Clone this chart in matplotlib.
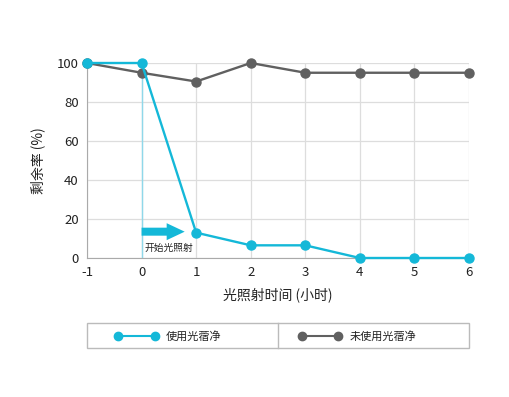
import matplotlib
matplotlib.use("Agg")
import matplotlib.pyplot as plt
from matplotlib.lines import Line2D
from matplotlib.patches import Rectangle, FancyArrow

plt.rcParams['font.family'] = ['Noto Sans CJK SC', 'DejaVu Sans']
plt.rcParams['axes.unicode_minus'] = False

hours = [-1, 0, 1, 2, 3, 4, 5, 6]
with_cleaner = [100, 100, 13, 6.5, 6.5, 0, 0, 0]
without_cleaner = [100, 95, 90.5, 100, 95, 95, 95, 95]
yticks = [0, 20, 40, 60, 80, 100]
series_names = ['使用光蓿净', '未使用光蓿净']
blue = '#14b8d8'
gray = '#606060'

fig = plt.figure(figsize=(5.1, 3.97), dpi=100)
ax = fig.add_axes([87/510, 1-258/397, (469-87)/510, (258-63)/397])
ax.set_xlim(-1, 6)
ax.set_ylim(0, 100)
ax.set_xticks(hours)
ax.set_yticks(yticks)
ax.grid(True, color='#dddddd', linewidth=0.9)
ax.set_axisbelow(True)
for s in ['top', 'right']:
    ax.spines[s].set_visible(False)
for s in ['left', 'bottom']:
    ax.spines[s].set_color('#aaaaaa')
ax.tick_params(length=0, labelsize=9.5, colors='#222222', pad=6)

ax.plot([0, 0], [0, 100], color='#8fd8ea', linewidth=1, zorder=2)
ax.plot(hours, without_cleaner, color=gray, linewidth=1.7, marker='o', markersize=6.5, zorder=3, clip_on=False)
ax.plot(hours, with_cleaner, color=blue, linewidth=1.7, marker='o', markersize=6.5, zorder=4, clip_on=False)

ax.add_patch(FancyArrow(0, 13.5, 0.79, 0, width=4.1, head_width=8.7, head_length=0.33,
                        length_includes_head=True, color=blue, linewidth=0, zorder=5))
ax.text(0.05, 5.0, '开始光照射', fontsize=7, color='#222222', va='center', ha='left')

ax.set_xlabel('光照射时间 (小时)', fontsize=10, color='#222222', labelpad=6)
ax.set_ylabel('剩余率 (%)', fontsize=10, color='#222222', labelpad=8)

# legend box
W, H = 510, 397
def fx(p): return p / W
def fy(p): return 1 - p / H
fig.patches.append(Rectangle((fx(87), fy(348)), fx(469) - fx(87), fy(323) - fy(348),
                             transform=fig.transFigure, fill=False, edgecolor='#bbbbbb', linewidth=1))
fig.lines.append(Line2D([fx(278), fx(278)], [fy(323), fy(348)], transform=fig.transFigure,
                        color='#bbbbbb', linewidth=1))
yl = fy(336)
fig.lines.append(Line2D([fx(118), fx(155)], [yl, yl], transform=fig.transFigure, color=blue,
                        linewidth=1.5, marker='o', markersize=6))
fig.text(fx(166), yl, series_names[0], fontsize=8, va='center', ha='left', color='#222222')
fig.lines.append(Line2D([fx(302), fx(338)], [yl, yl], transform=fig.transFigure, color=gray,
                        linewidth=1.5, marker='o', markersize=6))
fig.text(fx(350), yl, series_names[1], fontsize=8, va='center', ha='left', color='#222222')

fig.savefig('out.png', dpi=100)
